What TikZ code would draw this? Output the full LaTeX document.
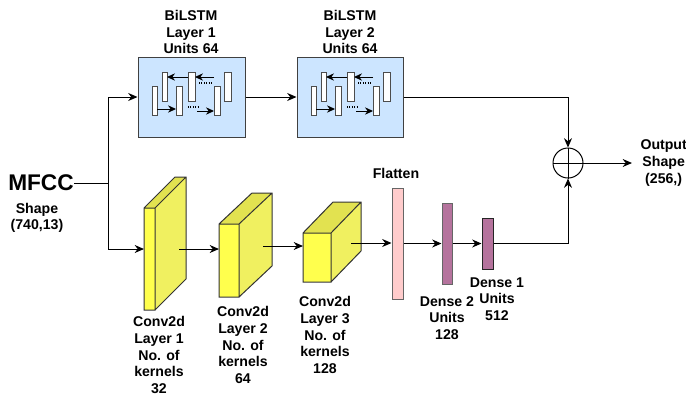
\documentclass[tikz,border=0pt]{standalone}
\usepackage{fontspec}
\setmainfont{Liberation Sans}
\usetikzlibrary{arrows.meta}

\definecolor{lstmblue}{HTML}{CCE5FF}
\definecolor{cubefront}{HTML}{FFFF4D}
\definecolor{cubeside}{HTML}{F0F060}
\definecolor{cubetop}{HTML}{E2E250}
\definecolor{flatpink}{HTML}{FFCCCC}
\definecolor{densepurple}{HTML}{B5739D}

\tikzset{
  lbl/.style={font=\bfseries\fontsize{10.6}{12.4}\selectfont, align=center, inner sep=0pt},
  arr/.style={-{Stealth[length=7pt,width=6pt]}},
  smallarr/.style={-{Stealth[length=6pt,width=5.5pt]}},
  layerbox/.style={draw=black!75, fill=lstmblue, minimum width=107*0.75pt, minimum height=80*0.75pt, inner sep=0pt},
  bar/.style={draw=black!60, minimum width=11*0.75pt, inner sep=0pt},
  cells/.pic={
    \foreach \xa/\xb/\ya/\yb in {14/19/29/58, 24/29/15/44, 38/44/29/58, 50/57/15/44, 76/82/29/58, 86/93/15/44}
      \draw[black!70, fill=white] (\xa,\ya) rectangle (\xb,\yb);
    \draw[smallarr] (50,20) -- (29,20);
    \draw[smallarr] (76,20) -- (57,20);
    \draw[densely dotted, thick] (61,26) -- (74,26);
    \draw[smallarr] (19,52) -- (38,52);
    \draw[densely dotted, thick] (50,50) -- (60,50);
    \draw[smallarr] (59,54) -- (76,54);
  }
}

\newcommand{\convcube}[6]{% x1,y1,x2,y2,dx,dy
  \fill[cubeside] (#3,#2) -- ++(#5,#6) -- (#3+#5,#4+#6) -- (#3,#4) -- cycle;
  \fill[cubetop] (#1,#2) -- ++(#5,#6) -- (#3+#5,#2+#6) -- (#3,#2) -- cycle;
  \fill[cubefront] (#1,#2) rectangle (#3,#4);
  \draw[black!80] (#1,#2) rectangle (#3,#4)
    (#1,#2) -- ++(#5,#6) -- (#3+#5,#2+#6) -- (#3+#5,#4+#6) -- (#3,#4)
    (#3,#2) -- ++(#5,#6);
}

\begin{document}
\begin{tikzpicture}[x=0.75pt, y=-0.75pt, line width=0.75pt]
  \useasboundingbox (0,0) rectangle (686,401);

  % input
  \node[font=\bfseries\fontsize{17}{20}\selectfont, inner sep=0pt] (mfcc) at (41,183) {MFCC};
  \node[lbl] (shape) at (37,218) {Shape\\(740,13)};
  \coordinate (split) at (108,183);

  % BiLSTM branch
  \node[layerbox] (lstm1) at (191.5,97) {};
  \node[layerbox, minimum width=106*0.75pt] (lstm2) at (350,97) {};
  \pic at (138,57) {cells};
  \pic at (297,57) {cells};
  \node[lbl] (lstm1lbl) at (191,32) {BiLSTM\\Layer 1\\Units 64};
  \node[lbl] (lstm2lbl) at (350,32) {BiLSTM\\Layer 2\\Units 64};

  % Conv branch
  \convcube{144}{208}{155}{310}{31}{-31}
  \convcube{219}{224}{239}{297}{33}{-31}
  \convcube{303}{233}{331}{282}{30}{-31}
  \coordinate (c1in) at (144,249);
  \coordinate (c1out) at (179,249);
  \coordinate (c2in) at (219,249);
  \coordinate (c2out) at (263,246);
  \coordinate (c3in) at (303,246);
  \coordinate (c3out) at (351,243);
  \node[lbl] (c1lbl) at (159,355) {Conv2d\\Layer 1\\No. of\\kernels\\32};
  \node[lbl] (c2lbl) at (243,345) {Conv2d\\Layer 2\\No. of\\kernels\\64};
  \node[lbl] (c3lbl) at (325,335) {Conv2d\\Layer 3\\No. of\\kernels\\128};

  \node[bar, fill=flatpink, minimum height=111*0.75pt] (flat) at (397.5,243.5) {};
  \node[bar, fill=densepurple, minimum width=10*0.75pt, minimum height=81*0.75pt] (dense2) at (447,243.5) {};
  \node[bar, draw=black!85, fill=densepurple, minimum height=51*0.75pt] (dense1) at (487.5,243.5) {};
  \node[lbl] (flatlbl) at (396,173) {Flatten};
  \node[lbl] (d2lbl) at (447,318) {Dense 2\\Units\\128};
  \node[lbl] (d1lbl) at (497,299) {Dense 1\\Units\\512};

  % merge
  \node[draw, circle, minimum size=30*0.75pt, inner sep=0pt] (sum) at (568,163) {};
  \draw (sum.north) -- (sum.south) (sum.west) -- (sum.east);
  \coordinate (outpt) at (632,163);
  \node[lbl, anchor=west] (outlbl) at (640,163) {Output\\Shape\\(256,)};

  % connectors
  \draw (mfcc.east) -- (split);
  \draw[arr] (split) |- (lstm1.west);
  \draw[arr] (split) |- (c1in);
  \draw[arr] (lstm1.east) -- (lstm2.west);
  \draw[arr] (lstm2.east) -| (sum.north);
  \draw[arr] (c1out) -- (c2in);
  \draw[arr] (c2out) -- (c3in);
  \draw[arr] (c3out) -- (flat.west |- c3out);
  \draw[arr] (flat.east) -- (dense2.west);
  \draw[arr] (dense2.east) -- (dense1.west);
  \draw[arr] (dense1.east) -| (sum.south);
  \draw[arr] (sum.east) -- (outpt);
\end{tikzpicture}
\end{document}
